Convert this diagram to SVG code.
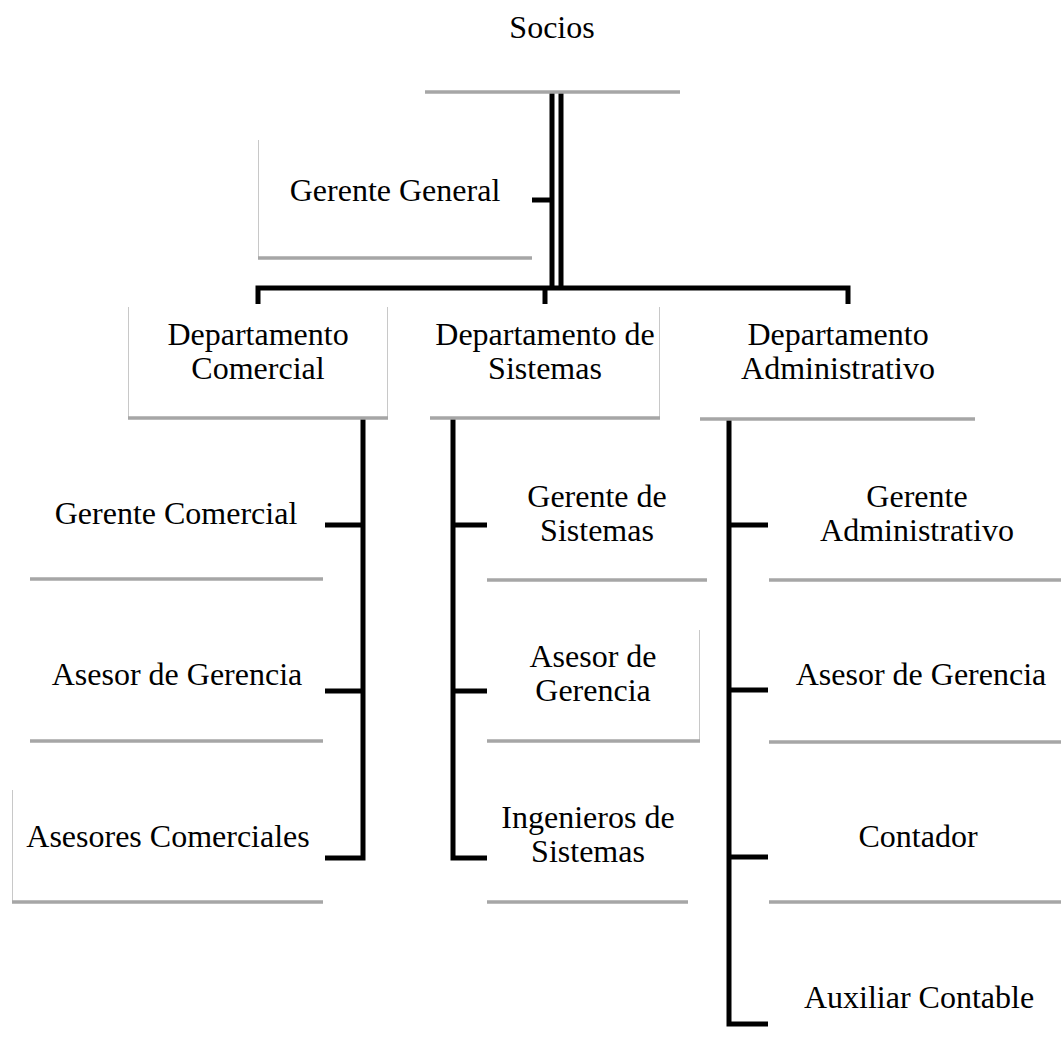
<svg xmlns="http://www.w3.org/2000/svg" width="1061" height="1059" viewBox="0 0 1061 1059">
<style>
  .t { font-family: "Liberation Serif", "Times New Roman", serif; font-size: 32px; fill: #000; text-anchor: middle; }
  .b { stroke: #a6a6a6; stroke-width: 3.5; fill: none; }
  .s { stroke: #c8c8c8; stroke-width: 1; fill: none; }
  .c { stroke: #000; stroke-width: 5; fill: none; stroke-linejoin: miter; }
</style>
<rect width="1061" height="1059" fill="#fff"/>
<g id="connectors">
  <line class="c" x1="552" y1="92" x2="552" y2="290"/>
  <line class="c" x1="561" y1="92" x2="561" y2="290"/>
  <line class="c" x1="532" y1="200" x2="552" y2="200"/>
  <path class="c" d="M258 304 V288 H848 V304"/>
  <line class="c" x1="545" y1="288" x2="545" y2="304"/>
  <path class="c" d="M363 418 V858 H325 M325 525 H363 M325 691 H363"/>
  <path class="c" d="M453 418 V858 H487 M453 525 H487 M453 691 H487"/>
  <path class="c" d="M729 419 V1024 H768 M729 525 H768 M729 690 H768 M729 857 H768"/>
</g>
<g id="socios">
  <line class="b" x1="425" y1="92" x2="680" y2="92"/>
  <text class="t" x="552" y="38">Socios</text>
</g>
<g id="gerente-general">
  <line class="s" x1="258.5" y1="140" x2="258.5" y2="258"/>
  <line class="b" x1="258" y1="258" x2="532" y2="258"/>
  <text class="t" x="395" y="201">Gerente General</text>
</g>
<g id="dep-comercial">
  <line class="s" x1="128.5" y1="307" x2="128.5" y2="418"/>
  <line class="s" x1="387.5" y1="307" x2="387.5" y2="418"/>
  <line class="b" x1="128" y1="418" x2="388" y2="418"/>
  <text class="t" x="258" y="345">Departamento</text>
  <text class="t" x="258" y="379">Comercial</text>
</g>
<g id="dep-sistemas">
  <line class="s" x1="659.5" y1="307" x2="659.5" y2="418"/>
  <line class="b" x1="430" y1="418" x2="660" y2="418"/>
  <text class="t" x="545" y="345">Departamento de</text>
  <text class="t" x="545" y="379">Sistemas</text>
</g>
<g id="dep-administrativo">
  <line class="b" x1="700" y1="419" x2="975" y2="419"/>
  <text class="t" x="838" y="345">Departamento</text>
  <text class="t" x="838" y="379">Administrativo</text>
</g>
<g id="gerente-comercial">
  <line class="b" x1="30" y1="579" x2="323" y2="579"/>
  <text class="t" x="176" y="524">Gerente Comercial</text>
</g>
<g id="asesor-gerencia-comercial">
  <line class="b" x1="30" y1="741" x2="323" y2="741"/>
  <text class="t" x="177" y="685">Asesor de Gerencia</text>
</g>
<g id="asesores-comerciales">
  <line class="s" x1="12.5" y1="790" x2="12.5" y2="902"/>
  <line class="b" x1="12" y1="902" x2="323" y2="902"/>
  <text class="t" x="168" y="847">Asesores Comerciales</text>
</g>
<g id="gerente-sistemas">
  <line class="b" x1="487" y1="580" x2="707" y2="580"/>
  <text class="t" x="597" y="507">Gerente de</text>
  <text class="t" x="597" y="541">Sistemas</text>
</g>
<g id="asesor-gerencia-sistemas">
  <line class="s" x1="699.5" y1="630" x2="699.5" y2="741"/>
  <line class="b" x1="487" y1="741" x2="700" y2="741"/>
  <text class="t" x="593" y="667">Asesor de</text>
  <text class="t" x="593" y="701">Gerencia</text>
</g>
<g id="ingenieros-sistemas">
  <line class="b" x1="487" y1="902" x2="688" y2="902"/>
  <text class="t" x="588" y="828">Ingenieros de</text>
  <text class="t" x="588" y="862">Sistemas</text>
</g>
<g id="gerente-administrativo">
  <line class="b" x1="769" y1="580" x2="1061" y2="580"/>
  <text class="t" x="917" y="507">Gerente</text>
  <text class="t" x="917" y="541">Administrativo</text>
</g>
<g id="asesor-gerencia-administrativo">
  <line class="b" x1="769" y1="742" x2="1061" y2="742"/>
  <text class="t" x="921" y="685">Asesor de Gerencia</text>
</g>
<g id="contador">
  <line class="b" x1="769" y1="902" x2="1061" y2="902"/>
  <text class="t" x="918" y="847">Contador</text>
</g>
<g id="auxiliar-contable">
  <text class="t" x="919" y="1008">Auxiliar Contable</text>
</g>
</svg>
